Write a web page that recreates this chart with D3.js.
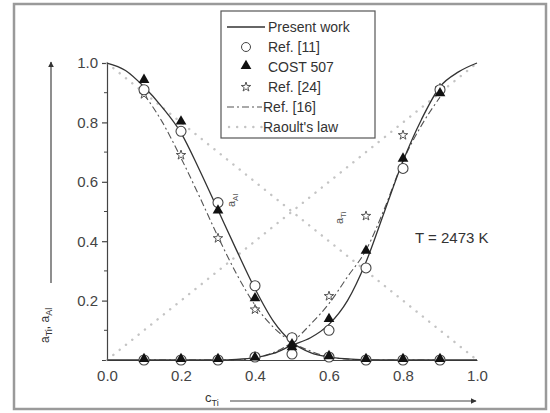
<!DOCTYPE html>
<html>
<head>
<meta charset="utf-8">
<script src="https://cdn.jsdelivr.net/npm/d3@7"></script>
<style>
  body { margin: 0; background: #fff; }
  text { font-family: "Liberation Sans", Arial, sans-serif; fill: #333; }
</style>
</head>
<body>
<script>
var width = 550;
var height = 413;

// measured points, composition c_Ti
let xs = [0.1, 0.2, 0.3, 0.4, 0.5, 0.6, 0.7, 0.8, 0.9];

// Ref. [11] (open circles)
let ref11Al = [0.91, 0.77, 0.53, 0.25, 0.075, 0.01, 0, 0, 0];
let ref11Ti = [0, 0, 0, 0.01, 0.02, 0.10, 0.31, 0.645, 0.91];
// COST 507 (filled triangles)
let costAl = [0.94, 0.80, 0.50, 0.205, 0.04, 0.01, 0, 0, 0];
let costTi = [0, 0, 0, 0.005, 0.05, 0.135, 0.365, 0.675, 0.895];
// Ref. [24] (stars)
let ref24Al = [0.895, 0.69, 0.41, 0.17, 0.065, 0.01, 0, 0, 0];
let ref24Ti = [0, 0, 0, 0.01, 0.075, 0.215, 0.485, 0.757, 0.915];

// Present work curves
let curveX = [0, 0.05, 0.1, 0.15, 0.2, 0.25, 0.3, 0.35, 0.4, 0.45, 0.5, 0.55, 0.6, 0.65, 0.7, 0.75, 0.8, 0.85, 0.9, 0.95, 1.0];
let presentAl = [1.0, 0.975, 0.92, 0.85, 0.765, 0.64, 0.505, 0.37, 0.24, 0.13, 0.06, 0.025, 0.01, 0.004, 0.001, 0, 0, 0, 0, 0, 0];
let presentTi = [0, 0, 0, 0, 0, 0, 0, 0.002, 0.008, 0.022, 0.05, 0.075, 0.12, 0.2, 0.33, 0.5, 0.67, 0.81, 0.92, 0.97, 1.0];

// Ref. [16] curves
let ref16X = [0.1, 0.15, 0.2, 0.25, 0.3, 0.35, 0.4, 0.45, 0.5, 0.55, 0.6, 0.65, 0.7, 0.75, 0.8, 0.85, 0.9];
let ref16Al = [0.895, 0.8, 0.68, 0.55, 0.415, 0.29, 0.185, 0.11, 0.06, 0.03, 0.01, 0.003, 0, 0, 0, 0, 0];
let ref16Ti = [0, 0, 0, 0, 0, 0, 0.008, 0.025, 0.06, 0.12, 0.19, 0.28, 0.37, 0.51, 0.67, 0.79, 0.885];

// Raoult's law
let raoultX = [0, 1];
let raoultTi = [0, 1];
let raoultAl = [1, 0];

let xTicks = [0.0, 0.2, 0.4, 0.6, 0.8, 1.0];
let yTicks = [0.2, 0.4, 0.6, 0.8, 1.0];

var xScale = d3.scaleLinear().domain([0, 1]).range([107, 477]);
var yScale = d3.scaleLinear().domain([0, 1]).range([360, 63]);

let svg = d3.select('body').append('svg')
    .attr('width', width)
    .attr('height', height);

svg.append('rect')
    .attr('x', 14).attr('y', 4)
    .attr('width', 532).attr('height', 405)
    .attr('fill', '#fff')
    .attr('stroke', '#9a9a9a')
    .attr('stroke-width', 2.5);

// axes
var xAxis = d3.axisBottom(xScale)
    .tickValues(xTicks)
    .tickSize(0)
    .tickPadding(10)
    .tickFormat(d3.format('.1f'));
var gx = svg.append('g')
    .attr('transform', 'translate(0,' + yScale(0) + ')')
    .call(xAxis);

var yAxis = d3.axisLeft(yScale)
    .tickValues(yTicks)
    .tickSize(5)
    .tickPadding(4)
    .tickFormat(d3.format('.1f'));
var gy = svg.append('g')
    .attr('transform', 'translate(' + xScale(0) + ',0)')
    .call(yAxis);

// minor y ticks
svg.append('g').selectAll('line')
    .data(d3.range(0.1, 1, 0.2))
    .join('line')
    .attr('x1', xScale(0) - 3).attr('x2', xScale(0))
    .attr('y1', d => yScale(d)).attr('y2', d => yScale(d))
    .attr('stroke', '#444');

[gx, gy].forEach(g => {
    g.selectAll('path, line').attr('stroke', '#444').attr('stroke-width', 1.2);
    g.selectAll('text')
        .style('font-size', '15px')
        .style('fill', '#444')
        .style('font-family', '"Liberation Sans", Arial, sans-serif');
});

// Raoult's law
var line = d3.line()
    .x(d => xScale(d[0]))
    .y(d => yScale(d[1]));

[raoultTi, raoultAl].forEach(vals => {
    svg.append('path')
        .datum(raoultX.map((x, i) => [x, vals[i]]))
        .attr('fill', 'none')
        .attr('stroke', '#c4c4c4')
        .attr('stroke-width', 2.4)
        .attr('stroke-linecap', 'round')
        .attr('stroke-dasharray', '0.1,8')
        .attr('d', line);
});

var smooth = d3.line()
    .x(d => xScale(d[0]))
    .y(d => yScale(d[1]))
    .curve(d3.curveMonotoneX);

// Ref. [16]
[ref16Al, ref16Ti].forEach(vals => {
    svg.append('path')
        .datum(ref16X.map((x, i) => [x, vals[i]]))
        .attr('fill', 'none')
        .attr('stroke', '#555')
        .attr('stroke-width', 1.1)
        .attr('stroke-dasharray', '7,3,2,3')
        .attr('d', smooth);
});

// Present work
[presentAl, presentTi].forEach(vals => {
    svg.append('path')
        .datum(curveX.map((x, i) => [x, vals[i]]))
        .attr('fill', 'none')
        .attr('stroke', '#333')
        .attr('stroke-width', 1.3)
        .attr('d', smooth);
});

// markers
var triangle = d3.symbol().type(d3.symbolTriangle).size(50);
var star = d3.symbol().type(d3.symbolStar).size(28);

function circles(vals) {
    svg.append('g').selectAll('circle')
        .data(xs.map((x, i) => [x, vals[i]]))
        .join('circle')
        .attr('cx', d => xScale(d[0]))
        .attr('cy', d => yScale(d[1]))
        .attr('r', 5)
        .attr('fill', '#fff')
        .attr('stroke', '#444')
        .attr('stroke-width', 1.1);
}
function stars(vals) {
    svg.append('g').selectAll('path')
        .data(xs.map((x, i) => [x, vals[i]]))
        .join('path')
        .attr('transform', d => 'translate(' + xScale(d[0]) + ',' + yScale(d[1]) + ')')
        .attr('d', star)
        .attr('fill', '#fff')
        .attr('stroke', '#555')
        .attr('stroke-width', 1);
}
function triangles(vals) {
    svg.append('g').selectAll('path')
        .data(xs.map((x, i) => [x, vals[i]]))
        .join('path')
        .attr('transform', d => 'translate(' + xScale(d[0]) + ',' + (yScale(d[1]) - 1) + ')')
        .attr('d', triangle)
        .attr('fill', '#111');
}
stars(ref24Al); stars(ref24Ti);
circles(ref11Al); circles(ref11Ti);
triangles(costAl); triangles(costTi);

// curve labels
function rotLabel(x, y, sub) {
    var t = svg.append('text')
        .attr('transform', 'translate(' + x + ',' + y + ') rotate(-90)')
        .style('font-size', '11px')
        .style('fill', '#555');
    t.append('tspan').text('a');
    t.append('tspan').attr('dy', 3).style('font-size', '8px').text(sub);
}
rotLabel(235, 207, 'Al');
rotLabel(343, 224, 'Ti');

svg.append('text')
    .attr('x', 415).attr('y', 243)
    .style('font-size', '15px')
    .text('T = 2473 K');

// y arrow + label
var defs = svg.append('defs');
defs.append('marker')
    .attr('id', 'arr')
    .attr('viewBox', '0 0 10 10')
    .attr('refX', 9).attr('refY', 5)
    .attr('markerWidth', 5).attr('markerHeight', 5)
    .attr('orient', 'auto')
    .append('path')
    .attr('d', 'M0,0 L10,5 L0,10 z')
    .attr('fill', '#333');

svg.append('line')
    .attr('x1', 51).attr('x2', 51)
    .attr('y1', 283).attr('y2', 62)
    .attr('stroke', '#444').attr('stroke-width', 1.2)
    .attr('marker-end', 'url(#arr)');

var yl = svg.append('text')
    .attr('transform', 'translate(49,343) rotate(-90)')
    .style('font-size', '12px');
yl.append('tspan').text('a');
yl.append('tspan').attr('dy', 3).style('font-size', '9px').text('Ti');
yl.append('tspan').attr('dy', -3).text(', a');
yl.append('tspan').attr('dy', 3).style('font-size', '9px').text('Al');

svg.append('line')
    .attr('x1', 230).attr('x2', 476)
    .attr('y1', 401).attr('y2', 401)
    .attr('stroke', '#444').attr('stroke-width', 1.2)
    .attr('marker-end', 'url(#arr)');

var xl = svg.append('text')
    .attr('x', 205).attr('y', 402)
    .style('font-size', '13px');
xl.append('tspan').text('c');
xl.append('tspan').attr('dy', 4).style('font-size', '9px').text('Ti');

// legend
var lg = svg.append('g');
lg.append('rect')
    .attr('x', 221).attr('y', 11)
    .attr('width', 154).attr('height', 127)
    .attr('fill', '#fff')
    .attr('stroke', '#555')
    .attr('stroke-width', 1.2);

let legendNames = ['Present work', 'Ref. [11]', 'COST 507', 'Ref. [24]', 'Ref. [16]', "Raoult's law"];
let legendY = [27, 47, 67, 87, 107, 127];
legendNames.forEach((name, i) => {
    var y = legendY[i];
    var tx = i >= 4 ? 263 : 268;
    lg.append('text')
        .attr('x', tx).attr('y', y + 5)
        .style('font-size', '14px')
        .text(name);
    if (i === 0) {
        lg.append('line').attr('x1', 227).attr('x2', 265).attr('y1', y).attr('y2', y)
            .attr('stroke', '#333').attr('stroke-width', 1.3);
    } else if (i === 1) {
        lg.append('circle').attr('cx', 246).attr('cy', y).attr('r', 4.5)
            .attr('fill', '#fff').attr('stroke', '#444');
    } else if (i === 2) {
        lg.append('path').attr('transform', 'translate(246,' + (y - 1) + ')')
            .attr('d', triangle).attr('fill', '#111');
    } else if (i === 3) {
        lg.append('path').attr('transform', 'translate(246,' + y + ')')
            .attr('d', star).attr('fill', '#fff').attr('stroke', '#555');
    } else if (i === 4) {
        lg.append('line').attr('x1', 227).attr('x2', 262).attr('y1', y).attr('y2', y)
            .attr('stroke', '#555').attr('stroke-width', 1.1).attr('stroke-dasharray', '7,3,2,3');
    } else {
        lg.append('line').attr('x1', 229).attr('x2', 262).attr('y1', y).attr('y2', y)
            .attr('stroke', '#c4c4c4').attr('stroke-width', 2.4)
            .attr('stroke-linecap', 'round').attr('stroke-dasharray', '0.1,8');
    }
});
</script>
</body>
</html>
